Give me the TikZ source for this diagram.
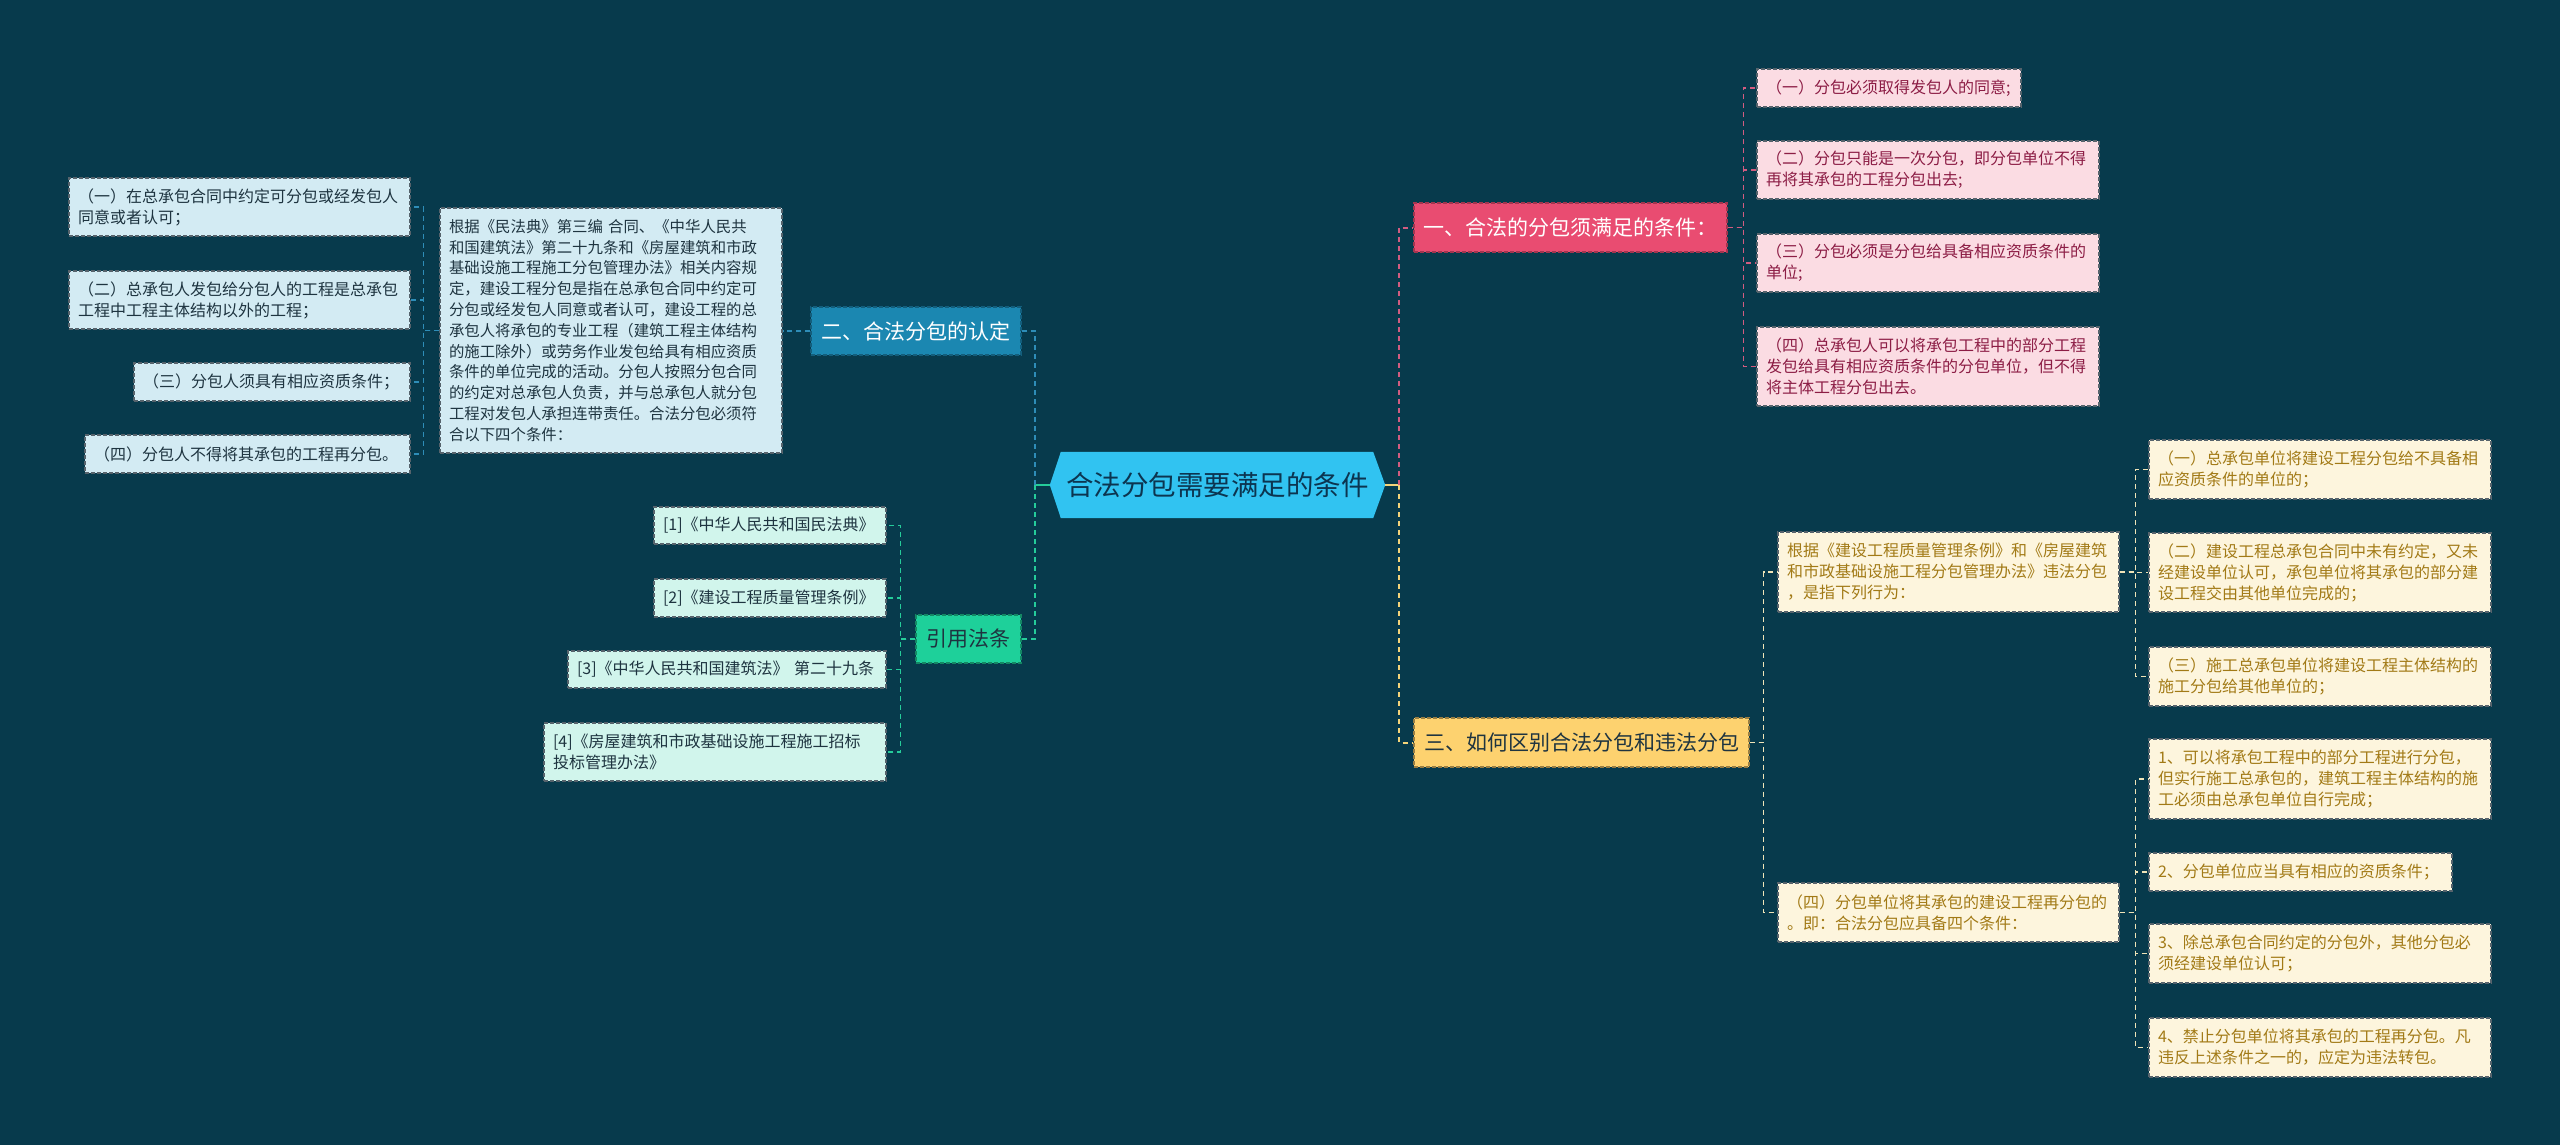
\documentclass[tikz,border=0pt]{standalone}
\usepackage{fontspec}
\setmainfont{Noto Sans CJK SC}
\usetikzlibrary{calc}
\pgfdeclarelayer{back}
\pgfsetlayers{back,main}

\definecolor{bg}{HTML}{073A4C}
\definecolor{rootfill}{HTML}{31C3F1}
\definecolor{roottext}{HTML}{0C3550}
\definecolor{twofill}{HTML}{1B87B1}
\definecolor{refill}{HTML}{1ED09A}
\definecolor{onefill}{HTML}{E94C71}
\definecolor{threefill}{HTML}{FDD26F}
\definecolor{darktext}{HTML}{1E3440}
\definecolor{bluefill}{HTML}{D3EBF3}
\definecolor{mintfill}{HTML}{D1F5EC}
\definecolor{pinkfill}{HTML}{FBDCE3}
\definecolor{pinktext}{HTML}{8C1D45}
\definecolor{creamfill}{HTML}{FDF5DD}
\definecolor{creamtext}{HTML}{A27A16}
\definecolor{leafborder}{HTML}{56636C}
\definecolor{cblue}{HTML}{2E8DB8}
\definecolor{cgreen}{HTML}{25CC9A}
\definecolor{cpink}{HTML}{D25C80}
\definecolor{cyellow}{HTML}{F4D47A}
\definecolor{clight}{HTML}{F0E4B8}

\begin{document}
\begin{tikzpicture}[x=1pt,y=-1pt,
  leaf/.style={draw=leafborder, line width=1.1pt, dash pattern=on 4pt off 2pt,
    inner xsep=9pt, inner ysep=0pt, align=left, font=\fontsize{16}{21}\selectfont},
  blueleaf/.style={leaf, fill=bluefill, text=darktext},
  mintleaf/.style={leaf, fill=mintfill, text=darktext},
  pinkleaf/.style={leaf, fill=pinkfill, text=pinktext},
  creamleaf/.style={leaf, fill=creamfill, text=creamtext},
  lvl/.style={line width=1.1pt, dash pattern=on 4pt off 2pt, inner sep=0pt,
    font=\fontsize{21}{25}\selectfont},
  rootnode/.style={inner sep=0pt, minimum width=335pt, minimum height=66pt,
    text=roottext, font=\fontsize{27.5}{32}\selectfont},
  con/.style={line width=2pt, dash pattern=on 5pt off 4pt},
  subcon/.style={line width=1.5pt, dash pattern=on 5pt off 4pt}
]
\begin{pgfonlayer}{back}
\fill[bg] (0,0) rectangle (2560,1145);
\end{pgfonlayer}
\useasboundingbox (0,0) rectangle (2560,1145);

% root
\node[rootnode] (root) at (1217.5,485) {合法分包需要满足的条件};
\begin{pgfonlayer}{back}
\fill[rootfill] ([xshift=11pt]root.north west) -- ([xshift=-12pt]root.north east)
  -- (root.east) -- ([xshift=-12pt]root.south east)
  -- ([xshift=11pt]root.south west) -- (root.west) -- cycle;
\end{pgfonlayer}

% level 1
\node[lvl, fill=twofill, draw=twofill!70!black, text=white,
  minimum width=210pt, minimum height=48pt] (n2) at (916,331) {二、合法分包的认定};
\node[lvl, fill=refill, draw=refill!65!black, text=darktext,
  minimum width=105pt, minimum height=48pt] (ny) at (968.5,639) {引用法条};
\node[lvl, fill=onefill, draw=onefill!70!black, text=white,
  minimum width=313pt, minimum height=49pt] (n1) at (1570.5,227.5) {一、合法的分包须满足的条件：};
\node[lvl, fill=threefill, draw=threefill!60!black, text=darktext,
  minimum width=335pt, minimum height=49pt] (n3) at (1581.5,742.5) {三、如何区别合法分包和违法分包};

% branch 二
\node[blueleaf, text width=324pt, minimum height=245pt, font=\fontsize{15.4}{20.8}\selectfont] (g) at (611,330.5)
{根据《民法典》第三编 合同、《中华人民共\\和国建筑法》第二十九条和《房屋建筑和市政\\基础设施工程施工分包管理办法》相关内容规\\定，建设工程分包是指在总承包合同中约定可\\分包或经发包人同意或者认可，建设工程的总\\承包人将承包的专业工程（建筑工程主体结构\\的施工除外）或劳务作业发包给具有相应资质\\条件的单位完成的活动。分包人按照分包合同\\的约定对总承包人负责，并与总承包人就分包\\工程对发包人承担连带责任。合法分包必须符\\合以下四个条件：};
\node[blueleaf, text width=323pt, minimum height=58pt] (b1) at (239.5,207)
{（一）在总承包合同中约定可分包或经发包人\\同意或者认可；};
\node[blueleaf, text width=323pt, minimum height=58pt] (b2) at (239.5,300)
{（二）总承包人发包给分包人的工程是总承包\\工程中工程主体结构以外的工程；};
\node[blueleaf, text width=258pt, minimum height=38pt] (b3) at (272,382)
{（三）分包人须具有相应资质条件；};
\node[blueleaf, text width=307pt, minimum height=38pt] (b4) at (247.5,454)
{（四）分包人不得将其承包的工程再分包。};

% branch 引用法条
\node[mintleaf, text width=214pt, minimum height=37pt] (c1) at (770,525.5) {[1]《中华人民共和国民法典》};
\node[mintleaf, text width=214pt, minimum height=38pt] (c2) at (770,598) {[2]《建设工程质量管理条例》};
\node[mintleaf, text width=300pt, minimum height=37pt] (c3) at (727,669.5) {[3]《中华人民共和国建筑法》 第二十九条};
\node[mintleaf, text width=324pt, minimum height=58pt] (c4) at (715,752)
{[4]《房屋建筑和市政基础设施工程施工招标\\投标管理办法》};

% branch 一
\node[pinkleaf, text width=246pt, minimum height=38pt] (p1) at (1889,88) {（一）分包必须取得发包人的同意;};
\node[pinkleaf, text width=324pt, minimum height=58pt] (p2) at (1928,170)
{（二）分包只能是一次分包，即分包单位不得\\再将其承包的工程分包出去;};
\node[pinkleaf, text width=324pt, minimum height=58pt] (p3) at (1928,263)
{（三）分包必须是分包给具备相应资质条件的\\单位;};
\node[pinkleaf, text width=324pt, minimum height=79pt] (p4) at (1928,366.5)
{（四）总承包人可以将承包工程中的部分工程\\发包给具有相应资质条件的分包单位，但不得\\将主体工程分包出去。};

% branch 三
\node[creamleaf, text width=323pt, minimum height=80pt] (q1) at (1948.5,572)
{根据《建设工程质量管理条例》和《房屋建筑\\和市政基础设施工程分包管理办法》违法分包\\，是指下列行为：};
\node[creamleaf, text width=323pt, minimum height=59pt] (q2) at (1948.5,912.5)
{（四）分包单位将其承包的建设工程再分包的\\。即：合法分包应具备四个条件：};
\node[creamleaf, text width=324pt, minimum height=59pt] (r1) at (2320,469.5)
{（一）总承包单位将建设工程分包给不具备相\\应资质条件的单位的；};
\node[creamleaf, text width=324pt, minimum height=79pt] (r2) at (2320,572.5)
{（二）建设工程总承包合同中未有约定，又未\\经建设单位认可，承包单位将其承包的部分建\\设工程交由其他单位完成的；};
\node[creamleaf, text width=324pt, minimum height=59pt] (r3) at (2320,676.5)
{（三）施工总承包单位将建设工程主体结构的\\施工分包给其他单位的；};
\node[creamleaf, text width=324pt, minimum height=80pt] (s1) at (2320,779)
{1、可以将承包工程中的部分工程进行分包，\\但实行施工总承包的，建筑工程主体结构的施\\工必须由总承包单位自行完成；};
\node[creamleaf, text width=285pt, minimum height=38pt] (s2) at (2300.5,872)
{2、分包单位应当具有相应的资质条件；};
\node[creamleaf, text width=324pt, minimum height=59pt] (s3) at (2320,953.5)
{3、除总承包合同约定的分包外，其他分包必\\须经建设单位认可；};
\node[creamleaf, text width=324pt, minimum height=59pt] (s4) at (2320,1047.5)
{4、禁止分包单位将其承包的工程再分包。凡\\违反上述条件之一的，应定为违法转包。};

% connectors from root
\draw[con, solid, cgreen, line width=2.5pt] (root.west) -- ++(-15,0);
\draw[con, cblue] ([xshift=-15pt]root.west) |- (n2.east);
\draw[con, cgreen] ([xshift=-15pt]root.west) |- (ny.east);
\draw[con, solid, cyellow, line width=2.5pt] (root.east) -- ++(14,0);
\draw[con, cpink] ([xshift=14pt]root.east) |- (n1.west);
\draw[con, cyellow] ([xshift=14pt]root.east) |- (n3.west);

% branch connectors
\draw[subcon, cblue] (n2.west) -- (n2.west -| g.east);
\foreach \b in {b1,b2,b3,b4} \draw[subcon, cblue] (g.west) -- ++(-16,0) |- (\b.east);
\foreach \c in {c1,c2,c3,c4} \draw[subcon, cgreen] (ny.west) -- ++(-15,0) |- (\c.east);
\foreach \p in {p1,p2,p3,p4} \draw[subcon, cpink] (n1.east) -- ++(16,0) |- (\p.west);
\foreach \q in {q1,q2} \draw[subcon, clight] (n3.east) -- ++(14,0) |- (\q.west);
\foreach \r in {r1,r2,r3} \draw[subcon, clight] (q1.east) -- ++(16,0) |- (\r.west);
\foreach \s in {s1,s2,s3,s4} \draw[subcon, clight] (q2.east) -- ++(16,0) |- (\s.west);
\end{tikzpicture}
\end{document}
